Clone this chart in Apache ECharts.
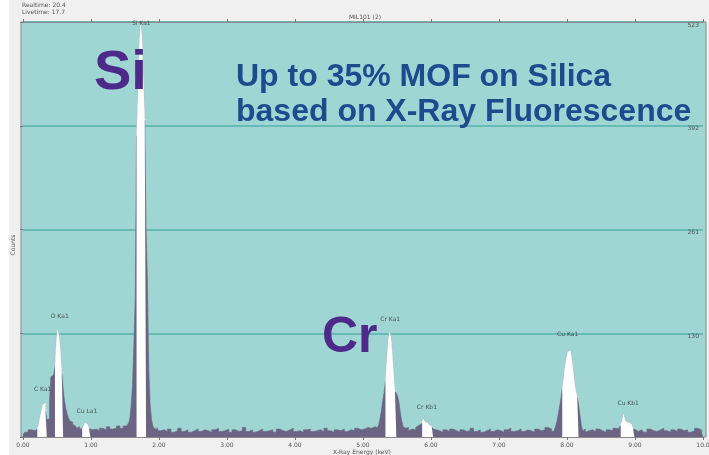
<!DOCTYPE html>
<html><head><meta charset="utf-8">
<script src="https://cdn.jsdelivr.net/npm/echarts@6/dist/echarts.min.js"></script>
<style>html,body{margin:0;padding:0;background:#fff}#c{width:709px;height:455px}</style>
</head><body><div id="c"></div>
<script>
// Spectrum segments: start energy (keV), step (keV), counts
const segStarts = [0.00, 0.20, 1.05, 1.56, 2.05, 5.22, 5.75, 5.82, 6.10, 7.80, 8.35, 8.76, 9.05];
const segSteps  = [0.05, 0.02, 0.05, 0.02, 0.05, 0.02, 0.05, 0.02, 0.05, 0.02, 0.05, 0.02, 0.05];
const segCounts = [
  [3,6,9,8],
  [6,10,16,25,33,41,43,33,22,23,46,76,78,79,89,122,135,128,109,81,61,46,36,29,24,20,19,16,14,15,11,13,10,11,10,14,18,16,14,11,9],
  [10,8,11,9,13,10,11,14,11,14,16],
  [18,23,39,65,116,173,380,430,495,520,505,450,400,262,195,85,40,22,14,11,9,12,8],
  [9,7,10,6,8,11,7,9,6,8,10,7,9,8,6,9,11,7,8,10,6,9,7,8,12,7,9,6,8,10,7,8,9,6,10,8,7,9,11,7,8,6,9,10,7,8,9,7,11,8,6,9,8,10,7,9,8,11,9,10,12,11,13,15],
  [12,15,23,33,46,56,71,97,122,132,127,107,81,58,55,51,43,30,20,13,11,9,12,8,10],
  [9,12],
  [14,16,14,18,23,19,18,16,15,14,12,10,9],
  [8,6,9,7,10,8,6,9,7,8,11,7,9,6,8,10,7,9,8,6,9,11,7,8,10,7,9,8,6,10,8,9,12,10],
  [6,8,13,19,28,38,48,61,74,89,99,107,109,107,99,84,69,58,51,41,28,15,8,10,6,8],
  [9,7,10,8,6,9,8,11],
  [10,13,15,20,29,23,19,18,18,16,14,11,9,8],
  [7,9,6,10,8,7,9,11,8,6,9,7,10,8,9,6,8,11,9,7]
];
// Highlighted (white) ROI windows, keV
const roiStart = [0.22, 0.48, 0.88, 1.68, 5.34, 5.88, 7.94, 8.80];
const roiEnd   = [0.34, 0.58, 0.98, 1.80, 5.48, 6.02, 8.16, 8.98];
// Peak labels
const peakNames  = ['C Ka1','O Ka1','Cu La1','Si Ka1','Cr Ka1','Cr Kb1','Cu Ka1','Cu Kb1'];
const peakEnergy = [0.29, 0.54, 0.94, 1.74, 5.40, 5.94, 8.01, 8.90];
const peakLabelY = [56, 148, 29, 518, 145, 33, 126, 39];
const xTicks = [0,1,2,3,4,5,6,7,8,9,10];
const yMax = 523;

const spectrum = [];
segStarts.forEach((s, i) => {
  segCounts[i].forEach((c, k) => spectrum.push([+(s + k * segSteps[i]).toFixed(2), c]));
});
const roiData = spectrum.map(p => {
  const inRoi = roiStart.some((a, j) => p[0] >= a - 1e-6 && p[0] <= roiEnd[j] + 1e-6);
  return inRoi ? p : [p[0], null];
});
const labelData = peakNames.map((n, i) => ({ name: n, value: [peakEnergy[i], peakLabelY[i]] }));

const chart = echarts.init(document.getElementById('c'));
const small = { fontFamily: 'DejaVu Sans', fontSize: 6, color: '#555' };
chart.setOption({
  animation: false,
  backgroundColor: '#ffffff',
  grid: { left: 23, right: 6, top: 22, bottom: 18, containLabel: false, outerBoundsMode: 'none' },
  xAxis: [{
    type: 'value', min: 0, max: 10, interval: 1,
    axisLine: { show: true, lineStyle: { color: '#8a8a8a' } },
    axisTick: { show: true, length: 3, lineStyle: { color: '#777' } },
    axisLabel: Object.assign({ margin: 5, formatter: v => v === 10 ? '10.0' : v.toFixed(2) }, small),
    splitLine: { show: false }
  }, {
    type: 'value', min: 0, max: 10, interval: 1, position: 'top',
    axisLine: { show: true, lineStyle: { color: '#8a8a8a' } },
    axisTick: { show: true, length: 3, lineStyle: { color: '#777' } },
    axisLabel: { show: false }, splitLine: { show: false }
  }],
  yAxis: {
    type: 'value', min: 0, max: yMax, interval: yMax / 4, position: 'right',
    axisLine: { show: false },
    axisTick: { show: true, inside: true, length: 3, lineStyle: { color: '#777' } },
    axisLabel: Object.assign({ inside: true, margin: 4, verticalAlign: 'top', formatter: v => v === 0 ? '' : String(Math.floor(v)) }, small),
    splitLine: { show: true, lineStyle: { color: '#57b1ad', width: 1.5 } }
  },
  graphic: [
    { type: 'rect', z: -20, shape: { x: 9, y: 0, width: 700, height: 455 }, style: { fill: '#f0f0f0' } },
    { type: 'rect', z: -10, shape: { x: 21, y: 22, width: 685, height: 415 }, style: { fill: '#9fd5d2', stroke: '#8a8a8a', lineWidth: 1 } },
    { type: 'text', z: 100, style: { text: 'Realtime: 20.4', x: 22, y: 2, font: '6px DejaVu Sans', fill: '#555' } },
    { type: 'text', z: 100, style: { text: 'Livetime: 17.7', x: 22, y: 9, font: '6px DejaVu Sans', fill: '#555' } },
    { type: 'text', z: 100, style: { text: 'MIL101 (2)', x: 365, y: 14, textAlign: 'center', font: '6px DejaVu Sans', fill: '#555' } },
    { type: 'text', z: 100, style: { text: 'X-Ray Energy (keV)', x: 362, y: 452, textAlign: 'center', textVerticalAlign: 'middle', font: '6px DejaVu Sans', fill: '#555' } },
    { type: 'text', z: 100, rotation: Math.PI / 2, x: 13, y: 245, style: { text: 'Counts', x: 0, y: 0, textAlign: 'center', textVerticalAlign: 'middle', font: '6px DejaVu Sans', fill: '#555' } },
    { type: 'text', z: 100, style: { text: 'Si', x: 94, y: 102, textVerticalAlign: 'bottom', font: 'bold 56px "Liberation Sans", Arial, sans-serif', fill: '#4d2a89' } },
    { type: 'text', z: 100, style: { text: 'Cr', x: 322, y: 363, textVerticalAlign: 'bottom', font: 'bold 50px "Liberation Sans", Arial, sans-serif', fill: '#4d2a89' } },
    { type: 'text', z: 100, style: { text: 'Up to 35% MOF on Silica', x: 236, y: 93, textVerticalAlign: 'bottom', font: 'bold 32px "Liberation Sans", Arial, sans-serif', fill: '#1c4c8e' } },
    { type: 'text', z: 100, style: { text: 'based on X-Ray Fluorescence', x: 236, y: 128, textVerticalAlign: 'bottom', font: 'bold 32px "Liberation Sans", Arial, sans-serif', fill: '#1c4c8e' } }
  ],
  series: [
    { type: 'line', data: spectrum, step: 'middle', symbol: 'none', z: 3,
      lineStyle: { width: 0.6, color: '#6b6583' }, areaStyle: { color: '#6b6583', opacity: 1 } },
    { type: 'line', data: roiData, step: 'middle', symbol: 'none', z: 4, connectNulls: false,
      lineStyle: { width: 0.6, color: '#ffffff' }, areaStyle: { color: '#ffffff', opacity: 1 } },
    { type: 'scatter', data: labelData, symbolSize: 0, z: 5,
      label: { show: true, position: 'top', distance: 0, formatter: p => p.name,
        fontFamily: 'DejaVu Sans', fontSize: 6, color: '#333' } }
  ]
});
</script></body></html>
